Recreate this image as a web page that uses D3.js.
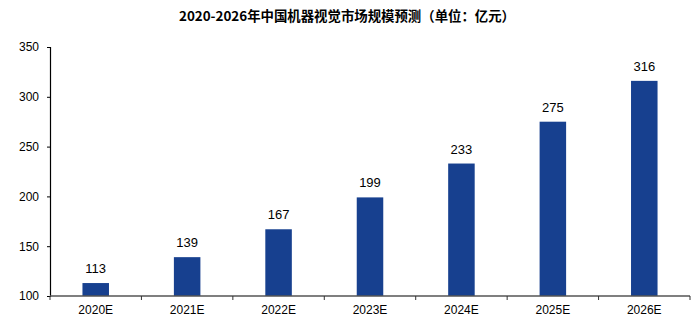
<!DOCTYPE html>
<html><head><meta charset="utf-8">
<script src="https://cdn.jsdelivr.net/npm/d3@7"></script>
<style>body{margin:0;background:#fff}</style>
</head><body>
<svg id="c" width="700" height="325"></svg>
<script>
const categories = ["2020E","2021E","2022E","2023E","2024E","2025E","2026E"];
const values = [113,139,167,199,233,275,316];
const yTicks = [100,150,200,250,300,350];
const title = "2020-2026年中国机器视觉市场规模预测（单位：亿元）";

const svg = d3.select("#c");
const x = d3.scaleBand().domain(categories).range([50,690]).paddingInner(0.71).paddingOuter(0.355);
const y = d3.scaleLinear().domain([100,350]).range([296,47]);

svg.append("text").attr("x",347).attr("y",21).attr("text-anchor","middle")
  .attr("font-family","'Noto Sans CJK SC', sans-serif").attr("font-weight","bold")
  .attr("font-size",13.4).attr("fill","#000").text(title);

// bars
svg.selectAll("rect.bar").data(values).join("rect").attr("class","bar")
  .attr("x",(d,i)=>x(categories[i])).attr("width",x.bandwidth())
  .attr("y",d=>y(d)).attr("height",d=>y(100)-y(d))
  .attr("fill","#17408f");

svg.selectAll("text.val").data(values).join("text").attr("class","val")
  .attr("x",(d,i)=>x(categories[i])+x.bandwidth()/2).attr("y",d=>y(d)-10)
  .attr("text-anchor","middle").attr("font-family","'Liberation Sans', Arial, sans-serif")
  .attr("font-size",13).attr("fill","#000").text(d=>d);

// y axis
const ya = svg.append("g").attr("transform","translate(50,0)")
  .call(d3.axisLeft(y).tickValues(yTicks).tickSize(3).tickPadding(8));
ya.select(".domain").attr("stroke","#000").attr("stroke-width",1.2);
ya.selectAll(".tick line").attr("stroke","#000");
ya.selectAll("text").attr("font-family","'Liberation Sans', Arial, sans-serif").attr("font-size",12).attr("fill","#000");

// x axis
const xa = svg.append("g").attr("transform","translate(0,296)");
xa.append("line").attr("x1",50).attr("x2",690).attr("stroke","#555").attr("stroke-width",1.5);
const bounds = categories.map(c=>x(c)-x.step()*x.paddingInner()/2).concat([690]);
xa.selectAll("line.tk").data(bounds).join("line").attr("class","tk")
  .attr("x1",d=>d).attr("x2",d=>d).attr("y1",0).attr("y2",4).attr("stroke","#333");
xa.selectAll("text").data(categories).join("text")
  .attr("x",d=>x(d)+x.bandwidth()/2).attr("y",18).attr("text-anchor","middle")
  .attr("font-family","'Liberation Sans', Arial, sans-serif").attr("font-size",12).attr("fill","#000").text(d=>d);
</script>
</body></html>
